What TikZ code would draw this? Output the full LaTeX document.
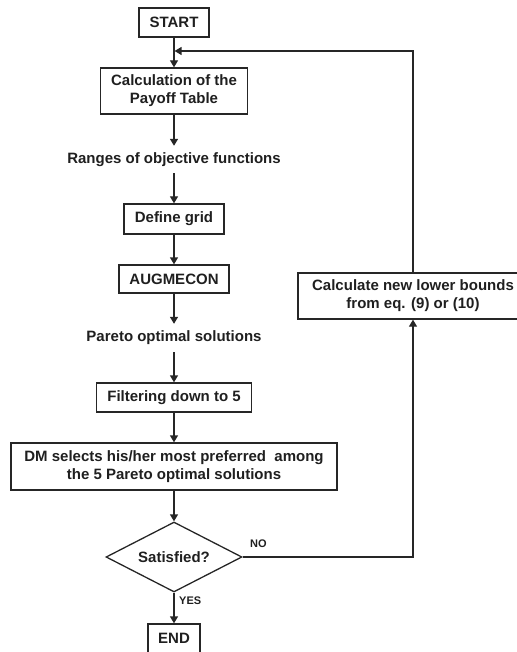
\documentclass[tikz,border=0pt]{standalone}
\usepackage{fontspec}
\setmainfont{Liberation Sans}
\usetikzlibrary{arrows.meta,shapes.geometric}
\begin{document}
\begin{tikzpicture}[x=1pt,y=1pt,
  every node/.style={font=\fontsize{15}{18}\selectfont\bfseries, text=black!88},
  box/.style={draw=black!85, line width=1.3pt, rectangle, inner sep=0pt, align=center},
  plain/.style={inner sep=0pt, minimum height=27pt, align=center},
  lbl/.style={font=\fontsize{11}{13}\selectfont\bfseries, inner sep=0pt, anchor=west},
  conn/.style={draw=black!85, line width=1.3pt, -{Triangle[length=7pt,width=8pt]}},
  wire/.style={draw=black!85, line width=1.3pt}]
\useasboundingbox (0,0) rectangle (516,-652);
\node[box, minimum width=70pt, minimum height=29pt] (start) at (174,-22.5) {START};
\node[box, minimum width=147pt, minimum height=46pt] (payoff) at (174,-91) {Calculation of the\\Payoff Table};
\node[plain] (ranges) at (174,-159.5) {Ranges of objective functions};
\node[box, minimum width=100pt, minimum height=30pt] (grid) at (174,-219) {Define grid};
\node[box, minimum width=110pt, minimum height=28pt] (aug) at (174,-279) {AUGMECON};
\node[plain, minimum height=28pt] (pareto) at (174,-338) {Pareto optimal solutions};
\node[box, minimum width=155pt, minimum height=29pt] (filter) at (174,-397.5) {Filtering down to 5};
\node[box, minimum width=326pt, minimum height=47pt] (dm) at (174,-466.5) {DM selects his/her most preferred\ \ among\\the 5 Pareto optimal solutions};
\node[draw=black!85, line width=1.3pt, diamond, inner sep=0pt, minimum width=136pt, minimum height=70pt, label=center:{Satisfied?}] (sat) at (174,-557) {};
\node[box, minimum width=52pt, minimum height=29pt] (end) at (174,-638.5) {END};
\node[box, minimum width=230pt, minimum height=46pt] (newlb) at (413,-296) {Calculate new lower bounds\\from eq. (9) or (10)};
\coordinate (fb) at (174,-51);
\coordinate (corner) at (413,-557);
\coordinate (topcorner) at (413,-51);
\node[lbl] (no) at (250,-544) {NO};
\node[lbl] (yes) at (179,-601) {YES};

\draw[conn] (start) -- (payoff);
\draw[conn] (payoff) -- (ranges);
\draw[conn] (ranges) -- (grid);
\draw[conn] (grid) -- (aug);
\draw[conn] (aug) -- (pareto);
\draw[conn] (pareto) -- (filter);
\draw[conn] (filter) -- (dm);
\draw[conn] (dm) -- (sat);
\draw[conn] (sat) -- (end);
\draw[conn] (sat.east) -- (corner) -- (corner |- newlb.south);
\draw[conn, shorten >=0.6pt] (corner |- newlb.north) -- (topcorner) -- (fb);
\end{tikzpicture}
\end{document}
